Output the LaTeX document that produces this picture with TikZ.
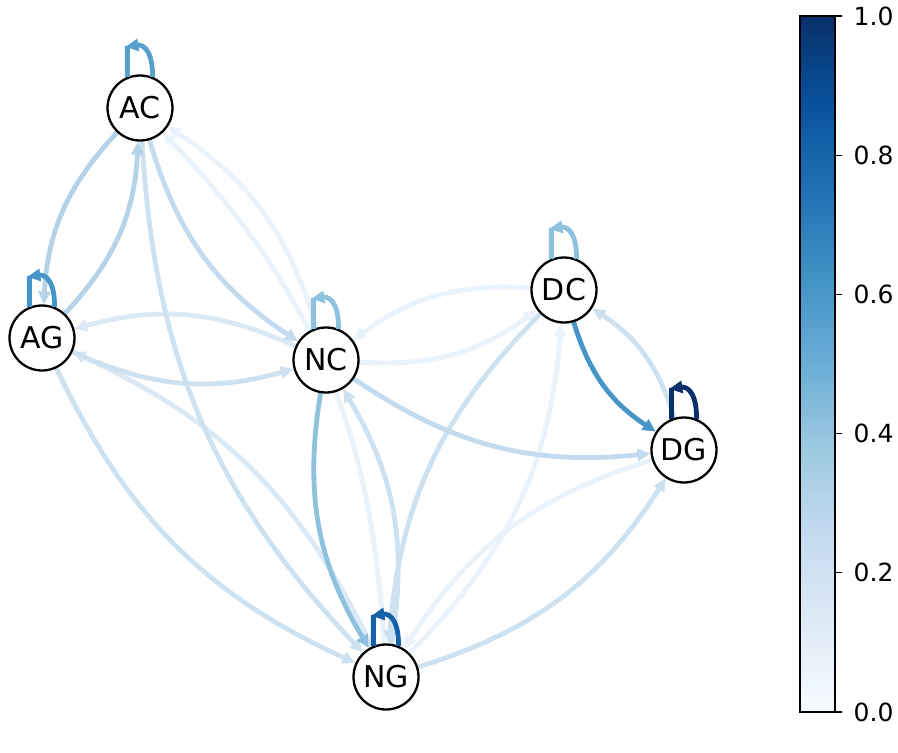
\documentclass[tikz,border=0pt]{standalone}
\usepackage{fontspec}
\setmainfont{DejaVu Sans}
\usetikzlibrary{arrows.meta,backgrounds}
\definecolor{wa}{RGB}{234,243,251}
\definecolor{wb}{RGB}{219,233,246}
\definecolor{wc}{RGB}{206,225,241}
\definecolor{wd}{RGB}{196,218,238}
\definecolor{we}{RGB}{180,211,233}
\definecolor{wf}{RGB}{142,193,222}
\definecolor{wg}{RGB}{88,161,207}
\definecolor{wh}{RGB}{70,149,200}
\definecolor{wi}{RGB}{22,98,170}
\definecolor{wj}{RGB}{8,48,107}
\begin{document}
\begin{tikzpicture}[x=1pt, y=1pt,
    vertex/.style={circle, draw, line width=2.3pt, fill=white, minimum size=65pt, inner sep=0pt, font=\fontsize{30}{35}\selectfont},
    edge/.style={line width=4.8pt, -{Triangle[length=13pt,width=12pt]}},
    tick/.style={anchor=west, inner sep=0pt, font=\fontsize{25}{29}\selectfont}]
    \useasboundingbox (0,0) rectangle (898,-753);
    \node[vertex] (AC) at (140,-108) {AC};
    \node[vertex] (AG) at (42,-338) {AG};
    \node[vertex] (NC) at (326,-360) {NC};
    \node[vertex] (DC) at (564,-290) {DC};
    \node[vertex] (DG) at (684,-450) {DG};
    \node[vertex] (NG) at (386,-677) {NG};
    \begin{scope}[on background layer]
    \draw[edge, wa] (NG) to[bend right=20] (AC);
    \draw[edge, wa] (NC) to[bend right=20] (AC);
    \draw[edge, wa] (NC) to[bend right=20] (DC);
    \draw[edge, wa] (DC) to[bend right=20] (NC);
    \draw[edge, wa] (NG) to[bend right=20] (DC);
    \draw[edge, wa] (DG) to[bend right=20] (NG);
    \draw[edge, wb] (NC) to[bend right=20] (AG);
    \draw[edge, wb] (NG) to[bend right=20] (AG);
    \draw[edge, wc] (AC) to[bend right=20] (NG);
    \draw[edge, wc] (AG) to[bend right=20] (NC);
    \draw[edge, wc] (AG) to[bend right=20] (NG);
    \draw[edge, wc] (NG) to[bend right=20] (NC);
    \draw[edge, wc] (DG) to[bend right=20] (DC);
    \draw[edge, wc] (DC) to[bend right=20] (NG);
    \draw[edge, wc] (NG) to[bend right=20] (DG);
    \draw[edge, wd] (NC) to[bend right=20] (DG);
    \draw[edge, wd] (AC) to[bend right=20] (NC);
    \draw[edge, we] (AC) to[bend right=20] (AG);
    \draw[edge, we] (AG) to[bend right=20] (AC);
    \draw[edge, wf] (NC) to[bend right=20] (NG);
    \draw[edge, wh] (DC) to[bend right=20] (DG);
    \end{scope}
    \draw[edge, wg] (AC.112) -- ++(0,31) (AC.68) .. controls +(0,32) and +(14,2) .. ([shift={(-2,30)}]AC.112);
    \draw[edge, wh] (AG.112) -- ++(0,31) (AG.68) .. controls +(0,32) and +(14,2) .. ([shift={(-2,30)}]AG.112);
    \draw[edge, wf] (NC.112) -- ++(0,31) (NC.68) .. controls +(0,32) and +(14,2) .. ([shift={(-2,30)}]NC.112);
    \draw[edge, wf] (DC.112) -- ++(0,31) (DC.68) .. controls +(0,32) and +(14,2) .. ([shift={(-2,30)}]DC.112);
    \draw[edge, wj] (DG.112) -- ++(0,31) (DG.68) .. controls +(0,32) and +(14,2) .. ([shift={(-2,30)}]DG.112);
    \draw[edge, wi] (NG.112) -- ++(0,31) (NG.68) .. controls +(0,32) and +(14,2) .. ([shift={(-2,30)}]NG.112);
    \shade[bottom color={rgb,255:red,247;green,251;blue,255}, top color={rgb,255:red,222;green,235;blue,247}] (800,-712) rectangle (835,-625);
    \shade[bottom color={rgb,255:red,222;green,235;blue,247}, top color={rgb,255:red,198;green,219;blue,239}] (800,-625.5) rectangle (835,-538);
    \shade[bottom color={rgb,255:red,198;green,219;blue,239}, top color={rgb,255:red,158;green,202;blue,225}] (800,-538.5) rectangle (835,-451);
    \shade[bottom color={rgb,255:red,158;green,202;blue,225}, top color={rgb,255:red,107;green,174;blue,214}] (800,-451.5) rectangle (835,-364);
    \shade[bottom color={rgb,255:red,107;green,174;blue,214}, top color={rgb,255:red,66;green,146;blue,198}] (800,-364.5) rectangle (835,-277);
    \shade[bottom color={rgb,255:red,66;green,146;blue,198}, top color={rgb,255:red,33;green,113;blue,181}] (800,-277.5) rectangle (835,-190);
    \shade[bottom color={rgb,255:red,33;green,113;blue,181}, top color={rgb,255:red,8;green,81;blue,156}] (800,-190.5) rectangle (835,-103);
    \shade[bottom color={rgb,255:red,8;green,81;blue,156}, top color={rgb,255:red,8;green,48;blue,107}] (800,-103.5) rectangle (835,-16);
    \draw[line width=1.3pt] (800,-16) rectangle (835,-712);
    \draw[line width=1.3pt] (835,-712) -- (842,-712) node[tick, xshift=11pt] {0.0};
    \draw[line width=1.3pt] (835,-572.8) -- (842,-572.8) node[tick, xshift=11pt] {0.2};
    \draw[line width=1.3pt] (835,-433.6) -- (842,-433.6) node[tick, xshift=11pt] {0.4};
    \draw[line width=1.3pt] (835,-294.4) -- (842,-294.4) node[tick, xshift=11pt] {0.6};
    \draw[line width=1.3pt] (835,-155.2) -- (842,-155.2) node[tick, xshift=11pt] {0.8};
    \draw[line width=1.3pt] (835,-16) -- (842,-16) node[tick, xshift=11pt] {1.0};
\end{tikzpicture}
\end{document}
